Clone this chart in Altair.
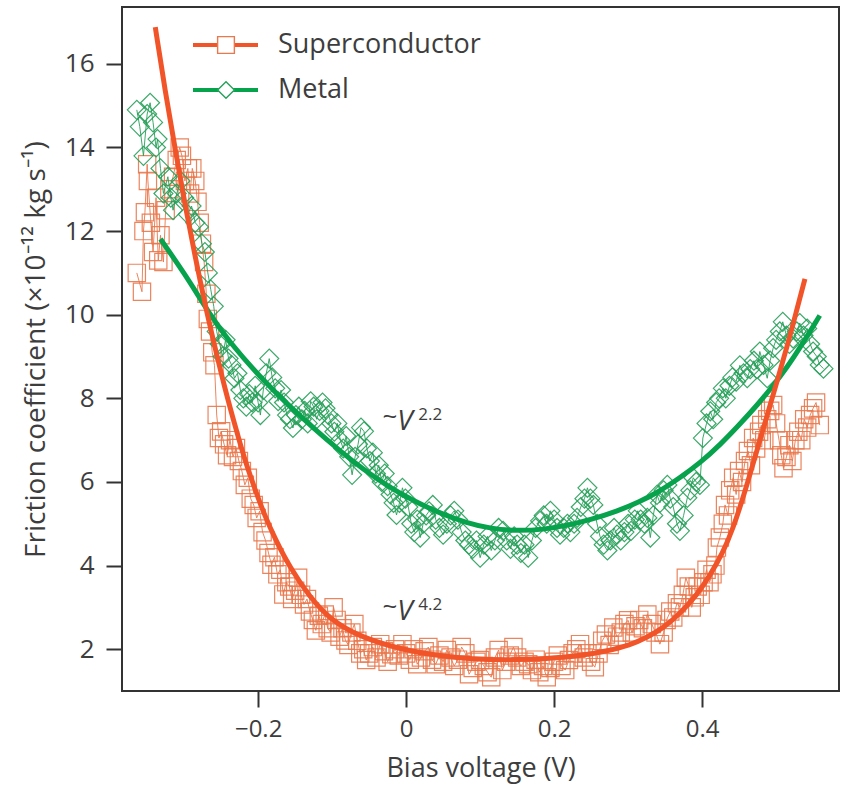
import altair as alt
import pandas as pd

# ---------------- data ----------------
sc_v = [-0.364, -0.357, -0.355, -0.353, -0.350, -0.349, -0.345, -0.342, -0.338, -0.335,
        -0.332, -0.328, -0.325, -0.320, -0.315, -0.310, -0.306, -0.303, -0.299, -0.295,
        -0.292, -0.289, -0.285, -0.282, -0.279, -0.276, -0.273, -0.270, -0.268, -0.265,
        -0.262, -0.259, -0.256, -0.253, -0.250, -0.246, -0.242, -0.238, -0.234, -0.230,
        -0.226, -0.222, -0.218, -0.214, -0.210, -0.206, -0.202, -0.198, -0.194, -0.190,
        -0.186, -0.182, -0.178, -0.174, -0.170, -0.166, -0.162, -0.158, -0.154, -0.150,
        -0.146, -0.142, -0.138, -0.134, -0.130, -0.126, -0.122, -0.118, -0.114, -0.110,
        -0.106, -0.102, -0.098, -0.094, -0.090, -0.086, -0.082, -0.078, -0.074, -0.070,
        -0.066, -0.062, -0.058, -0.054, -0.050, -0.045, -0.040, -0.035, -0.030, -0.025,
        -0.020, -0.015, -0.010, -0.005, 0.000, 0.005, 0.010, 0.015, 0.020, 0.025,
        0.030, 0.035, 0.040, 0.045, 0.050, 0.055, 0.060, 0.065, 0.070, 0.075,
        0.080, 0.085, 0.090, 0.095, 0.100, 0.105, 0.110, 0.115, 0.120, 0.125,
        0.130, 0.135, 0.140, 0.145, 0.150, 0.155, 0.160, 0.165, 0.170, 0.175,
        0.180, 0.185, 0.190, 0.195, 0.200, 0.205, 0.210, 0.215, 0.220, 0.225,
        0.230, 0.235, 0.240, 0.245, 0.250, 0.255, 0.260, 0.265, 0.270, 0.275,
        0.280, 0.285, 0.290, 0.295, 0.300, 0.305, 0.310, 0.315, 0.320, 0.326,
        0.332, 0.337, 0.343, 0.348, 0.352, 0.357, 0.361, 0.366, 0.370, 0.374,
        0.378, 0.382, 0.386, 0.390, 0.394, 0.398, 0.402, 0.406, 0.410, 0.414,
        0.418, 0.420, 0.424, 0.428, 0.431, 0.435, 0.438, 0.442, 0.446, 0.450,
        0.454, 0.458, 0.462, 0.466, 0.469, 0.473, 0.477, 0.480, 0.484, 0.488,
        0.492, 0.496, 0.500, 0.504, 0.507, 0.510, 0.514, 0.518, 0.522, 0.526,
        0.530, 0.534, 0.538, 0.542, 0.546, 0.550, 0.554, 0.559]
sc_f = [11.0, 10.55, 12.0, 12.45, 13.6, 13.2, 12.2, 11.5, 12.8, 11.3,
        11.9, 11.26, 12.5, 13.0, 13.3, 13.7, 14.0, 13.8, 13.2, 13.5,
        12.9, 13.5, 13.2, 12.7, 12.2, 11.7, 11.26, 10.5, 9.9, 9.6,
        9.1, 8.79, 7.6, 7.05, 7.21, 6.9, 6.64, 7.0, 6.6, 6.81,
        6.5, 6.26, 5.93, 6.1, 5.6, 5.45, 5.14, 5.3, 4.8, 4.6,
        4.3, 4.02, 4.2, 3.79, 3.9, 3.31, 3.6, 3.5, 3.2, 3.4,
        3.71, 3.3, 3.07, 3.2, 2.9, 2.7, 2.45, 2.8, 2.6, 2.83,
        2.5, 2.4, 3.0, 2.7, 2.3, 2.5, 2.21, 2.1, 2.4, 2.6,
        2.2, 1.9, 2.0, 1.74, 1.9, 2.05, 1.8, 2.12, 1.95, 1.7,
        1.88, 2.0, 1.85, 2.12, 1.9, 1.75, 2.0, 1.64, 1.8, 1.95,
        2.05, 1.75, 1.64, 1.85, 1.7, 1.98, 1.8, 1.6, 1.75, 2.05,
        1.9, 1.4, 1.55, 1.7, 1.74, 1.6, 1.45, 1.33, 1.8, 1.98,
        1.5, 1.7, 1.85, 2.05, 1.8, 1.6, 1.7, 1.64, 1.5, 1.75,
        1.45, 1.6, 1.33, 1.55, 1.7, 1.85, 1.6, 1.5, 1.74, 1.9,
        2.0, 2.12, 1.8, 1.9, 1.7, 1.57, 1.9, 2.2, 2.35, 2.1,
        2.52, 2.3, 2.4, 2.6, 2.69, 2.4, 2.55, 2.7, 2.5, 2.83,
        2.6, 2.4, 2.12, 2.4, 2.7, 2.9, 2.76, 3.1, 3.0, 3.3,
        3.71, 3.5, 3.0, 3.24, 3.5, 3.3, 3.6, 3.9, 3.6, 3.79,
        4.0, 4.43, 4.67, 5.0, 5.45, 5.2, 5.8, 6.1, 5.7, 6.26,
        6.0, 6.5, 6.74, 6.4, 7.05, 6.8, 7.2, 7.36, 7.0, 7.5,
        7.7, 7.84, 7.4, 7.0, 6.64, 6.33, 6.6, 6.88, 6.5, 7.0,
        7.2, 7.0, 7.5, 7.3, 7.6, 7.76, 7.9, 7.36]

mt_v = [-0.364, -0.360, -0.355, -0.350, -0.346, -0.342, -0.338, -0.336, -0.332, -0.328,
        -0.322, -0.318, -0.315, -0.310, -0.305, -0.300, -0.295, -0.290, -0.285, -0.280,
        -0.276, -0.272, -0.268, -0.264, -0.260, -0.256, -0.252, -0.248, -0.244, -0.240,
        -0.236, -0.232, -0.228, -0.224, -0.220, -0.216, -0.212, -0.208, -0.204, -0.200,
        -0.197, -0.193, -0.189, -0.185, -0.181, -0.177, -0.173, -0.169, -0.165, -0.161,
        -0.157, -0.153, -0.149, -0.145, -0.141, -0.137, -0.133, -0.129, -0.125, -0.121,
        -0.117, -0.113, -0.109, -0.105, -0.101, -0.097, -0.093, -0.089, -0.085, -0.081,
        -0.077, -0.073, -0.069, -0.065, -0.061, -0.057, -0.053, -0.049, -0.045, -0.041,
        -0.037, -0.033, -0.029, -0.025, -0.021, -0.017, -0.013, -0.009, -0.005, -0.001,
        0.003, 0.007, 0.011, 0.015, 0.019, 0.023, 0.027, 0.031, 0.036, 0.040,
        0.045, 0.050, 0.055, 0.060, 0.065, 0.070, 0.075, 0.080, 0.085, 0.090,
        0.095, 0.100, 0.105, 0.110, 0.115, 0.120, 0.125, 0.131, 0.136, 0.141,
        0.146, 0.150, 0.155, 0.160, 0.165, 0.170, 0.175, 0.181, 0.186, 0.190,
        0.195, 0.200, 0.204, 0.208, 0.213, 0.218, 0.222, 0.227, 0.231, 0.236,
        0.241, 0.245, 0.249, 0.253, 0.258, 0.262, 0.267, 0.272, 0.276, 0.281,
        0.285, 0.290, 0.295, 0.300, 0.304, 0.309, 0.313, 0.317, 0.322, 0.326,
        0.330, 0.334, 0.339, 0.343, 0.348, 0.353, 0.357, 0.361, 0.366, 0.370,
        0.375, 0.380, 0.384, 0.388, 0.392, 0.397, 0.401, 0.406, 0.411, 0.415,
        0.419, 0.423, 0.428, 0.432, 0.437, 0.441, 0.446, 0.451, 0.456, 0.461,
        0.465, 0.470, 0.474, 0.478, 0.483, 0.488, 0.492, 0.496, 0.500, 0.505,
        0.509, 0.514, 0.518, 0.523, 0.528, 0.532, 0.537, 0.542, 0.546, 0.550,
        0.555, 0.559, 0.564]
mt_f = [14.9, 14.5, 13.8, 14.8, 15.07, 14.6, 14.0, 14.2, 13.5, 12.9,
        13.3, 12.8, 12.5, 12.9, 13.2, 12.8, 12.4, 12.6, 12.2, 12.1,
        11.7, 11.5, 11.0, 10.6, 10.2, 9.6, 9.3, 9.0, 9.4, 8.95,
        8.8, 8.48, 8.6, 8.2, 8.0, 7.8, 8.1, 7.9, 8.3, 7.9,
        7.6, 8.2, 8.6, 8.95, 8.5, 8.24, 7.93, 8.2, 7.9, 7.6,
        7.5, 7.29, 7.6, 7.8, 7.5, 7.7, 7.4, 7.93, 7.8, 7.5,
        7.7, 7.9, 7.76, 7.6, 7.4, 7.2, 7.4, 7.0, 6.8, 7.1,
        6.6, 6.17, 6.6, 6.9, 7.3, 7.21, 6.8, 6.5, 6.7, 6.2,
        6.4, 6.0, 6.2, 5.9, 5.7, 5.5, 5.21, 5.5, 5.86, 5.6,
        5.4, 5.0, 4.8, 5.1, 4.67, 5.0, 5.2, 5.3, 5.45, 5.1,
        4.9, 4.74, 5.0, 5.2, 5.31, 5.1, 4.8, 4.6, 4.5, 4.4,
        4.6, 4.19, 4.5, 4.7, 4.36, 4.6, 4.9, 4.83, 4.6, 4.4,
        4.7, 4.5, 4.3, 4.5, 4.19, 4.6, 4.9, 5.07, 5.2, 5.0,
        5.31, 5.1, 4.9, 4.74, 4.9, 5.0, 4.8, 5.0, 5.14, 5.4,
        5.6, 5.86, 5.6, 5.45, 5.0, 4.7, 4.5, 4.36, 4.6, 4.9,
        4.74, 4.6, 4.8, 5.0, 4.83, 5.1, 5.31, 5.1, 5.0, 5.14,
        4.67, 5.2, 5.69, 5.5, 5.8, 5.93, 5.6, 5.4, 5.0, 4.83,
        5.2, 5.62, 5.8, 6.1, 6.0, 5.93, 7.05, 7.4, 7.69, 7.5,
        7.9, 8.0, 8.24, 8.0, 8.3, 8.5, 8.4, 8.79, 8.6, 8.48,
        8.7, 8.9, 8.7, 9.12, 8.8, 8.48, 8.9, 9.2, 9.4, 9.6,
        9.83, 9.5, 9.3, 9.43, 9.6, 9.8, 9.5, 9.67, 9.3, 9.12,
        9.0, 8.8, 8.71]

# power-law fit curves
sfit_v = [-0.339, -0.326, -0.312, -0.299, -0.285, -0.272, -0.258, -0.245, -0.231, -0.218,
          -0.204, -0.191, -0.177, -0.157, -0.130, -0.103, -0.062, -0.008, 0.040, 0.090,
          0.140, 0.190, 0.235, 0.270, 0.303, 0.325, 0.347, 0.370, 0.393, 0.410,
          0.428, 0.442, 0.455, 0.470, 0.488, 0.502, 0.515, 0.527, 0.539]
sfit_f = [16.88, 15.38, 13.95, 12.64, 11.38, 10.26, 9.19, 8.24, 7.33, 6.52,
          5.81, 5.19, 4.64, 3.95, 3.24, 2.71, 2.29, 2.0, 1.85, 1.76,
          1.74, 1.77, 1.84, 1.95, 2.1, 2.28, 2.5, 2.85, 3.3, 3.75,
          4.3, 4.9, 5.6, 6.5, 7.6, 8.45, 9.25, 10.05, 10.86]

mfit_v = [-0.332, -0.300, -0.265, -0.239, -0.197, -0.160, -0.126, -0.090, -0.058, -0.025,
          0.010, 0.046, 0.082, 0.115, 0.150, 0.185, 0.218, 0.250, 0.285, 0.315,
          0.343, 0.370, 0.397, 0.425, 0.451, 0.475, 0.496, 0.515, 0.532, 0.559]
mfit_f = [11.81, 11.0, 10.0, 9.35, 8.5, 7.85, 7.3, 6.75, 6.3, 5.9,
          5.55, 5.25, 5.02, 4.88, 4.83, 4.86, 4.96, 5.1, 5.3, 5.52,
          5.78, 6.1, 6.45, 6.9, 7.38, 7.85, 8.3, 8.75, 9.2, 9.98]

series_names = ["Superconductor", "Metal"]
annot_base = ["V", "V"]
annot_exp = ["2.2", "4.2"]
annot_v = [-0.012, -0.012]
annot_f = [7.24, 2.69]

# ---------------- styling ----------------
FONT = "Open Sans"
ORANGE_PT = "#E9784D"
ORANGE_FIT = "#F2542A"
GREEN_PT = "#27A05A"
GREEN_FIT = "#07A24C"
TEXT = "#3d3d3d"

xs = alt.Scale(domain=[-0.384, 0.585], nice=False, zero=False)
ys = alt.Scale(domain=[1.0, 17.36], nice=False, zero=False)

xax = alt.Axis(values=[-0.2, 0, 0.2, 0.4], title="Bias voltage (V)",
               labelExpr="replace(format(datum.value, '.1~f'), '-', '\u2212')",
               grid=False, domain=False, tickSize=16, tickWidth=2, tickColor="#333",
               labelFontSize=24, labelColor=TEXT, labelFont=FONT, labelPadding=10,
               titleFontSize=27, titleFont=FONT, titleColor=TEXT, titleFontWeight="normal",
               titlePadding=14)
yax = alt.Axis(values=[2, 4, 6, 8, 10, 12, 14, 16],
               title="Friction coefficient (\u00d710\u207b\u00b9\u00b2 kg s\u207b\u00b9)",
               grid=False, domain=False, tickSize=16, tickWidth=2, tickColor="#333",
               labelFontSize=26, labelColor=TEXT, labelFont=FONT, labelPadding=12,
               titleFontSize=28, titleFont=FONT, titleColor=TEXT, titleFontWeight="normal",
               titlePadding=14)

sc = pd.DataFrame({"v": sc_v, "f": sc_f, "i": range(len(sc_v))})
mt = pd.DataFrame({"v": mt_v, "f": mt_f, "i": range(len(mt_v))})
sfit = pd.DataFrame({"v": sfit_v, "f": sfit_f, "i": range(len(sfit_v))})
mfit = pd.DataFrame({"v": mfit_v, "f": mfit_f, "i": range(len(mfit_v))})
ann = pd.DataFrame({"v": annot_v, "f": annot_f, "base": annot_base, "exp": annot_exp})

X = alt.X("v:Q", scale=xs, axis=xax)
Y = alt.Y("f:Q", scale=ys, axis=yax)

sc_line = alt.Chart(sc).mark_line(color=ORANGE_PT, strokeWidth=1, opacity=0.9).encode(x=X, y=Y, order="i:Q")
sc_pts = alt.Chart(sc).mark_point(shape="square", filled=False, size=300, strokeWidth=1.2,
                                  color=ORANGE_PT, opacity=0.9).encode(x=X, y=Y)
mt_line = alt.Chart(mt).mark_line(color=GREEN_PT, strokeWidth=1, opacity=0.9).encode(x=X, y=Y, order="i:Q")
mt_pts = alt.Chart(mt).mark_point(shape="diamond", filled=False, size=360, strokeWidth=1.2,
                                  color=GREEN_PT, opacity=0.9).encode(x=X, y=Y)
mfit_line = alt.Chart(mfit).mark_line(color=GREEN_FIT, strokeWidth=5, interpolate="basis").encode(x=X, y=Y, order="i:Q")
sfit_line = alt.Chart(sfit).mark_line(color=ORANGE_FIT, strokeWidth=5, interpolate="basis").encode(x=X, y=Y, order="i:Q")

# annotations ~V^n
tilde = alt.Chart(ann).mark_text(text="~", align="right", baseline="alphabetic", fontSize=26,
                                 font=FONT, color=TEXT, dx=0, dy=-5).encode(x=X, y=Y)
vtxt = alt.Chart(ann).mark_text(align="left", baseline="alphabetic", fontSize=28, font=FONT,
                                fontStyle="italic", color=TEXT).encode(x=X, y=Y, text="base:N")
etxt = alt.Chart(ann).mark_text(align="left", baseline="alphabetic", fontSize=17, font=FONT,
                                color=TEXT, dx=21, dy=-10).encode(x=X, y=Y, text="exp:N")

# legend (manual, top-left inside the frame)
one = pd.DataFrame({"k": [0]})
def legend_item(ypix, color, line_color, shape, label):
    rule = alt.Chart(one).mark_rule(color=line_color, strokeWidth=4).encode(
        x=alt.value(71), x2=alt.value(136), y=alt.value(ypix))
    pt = alt.Chart(one).mark_point(shape=shape, filled=True, fill="white", stroke=color,
                                   size=280, strokeWidth=1.4, opacity=1).encode(
        x=alt.value(104), y=alt.value(ypix))
    txt = alt.Chart(one).mark_text(text=label, align="left", baseline="middle", fontSize=27,
                                   font=FONT, color=TEXT).encode(x=alt.value(156), y=alt.value(ypix))
    return [rule, pt, txt]

leg = legend_item(38, ORANGE_PT, ORANGE_FIT, "square", series_names[0]) + \
      legend_item(83, GREEN_PT, GREEN_FIT, "diamond", series_names[1])

chart = alt.layer(sc_line, sc_pts, mt_line, mt_pts, mfit_line, sfit_line,
                  tilde, vtxt, etxt, *leg).properties(
    width=717, height=684,
    autosize=alt.AutoSizeParams(type="none"),
    padding={"left": 122, "top": 7, "right": 7, "bottom": 98},
    background="white",
).configure_view(stroke="#333", strokeWidth=2)

chart.save("out.html", embed_options={"renderer": "svg", "actions": False})
